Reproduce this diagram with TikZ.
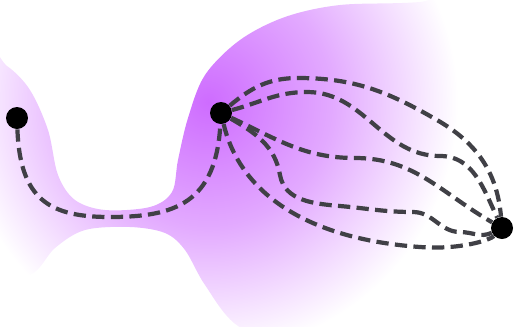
\documentclass[tikz,border=0pt]{standalone}
\usepackage{tikz}
\usetikzlibrary{positioning}
\definecolor{glowpurple}{RGB}{206, 108, 255}
\definecolor{trailgray}{RGB}{64, 64, 70}
\pgfdeclareradialshading{purpleglow}{\pgfpoint{0bp}{0bp}}{%
    color(0bp)=(glowpurple); color(12.5bp)=(glowpurple!58!white);
    color(25bp)=(white); color(50bp)=(white)}

\begin{document}
\begin{tikzpicture}[
    x=0.02cm, y=-0.02cm,
    dot/.style={circle, fill=black, inner sep=0pt, minimum size=0.44cm},
    trail/.style={trailgray, line width=2.4pt, dash pattern=on 7pt off 3.6pt}
]
    \useasboundingbox (0,0) rectangle (514,326);

    % Shaded region
    \begin{scope}
        \clip plot[smooth cycle, tension=0.55] coordinates {
            (-20,55) (7,66) (30,90) (48,130) (58,175) (75,200) (105,210)
            (150,207) (172,192) (178,160) (188,118) (205,75) (240,40)
            (285,17) (340,5) (420,2) (530,-10) (540,340) (300,350)
            (238,326) (205,285) (185,250) (165,233) (130,227) (85,230)
            (55,248) (30,275) (-20,280)};
        \shade[shading=purpleglow] (208,102) circle (250);
    \end{scope}

    % Dots
    \node[dot] (left) at (17,118) {};
    \node[dot] (mid) at (221,113) {};
    \node[dot] (right) at (502,228) {};

    % Paths
    \draw[trail] (left) .. controls (20,200) and (50,217) .. (110,217)
        .. controls (175,217) and (216,203) .. (mid);
    \draw[trail] (mid) to[out=40,in=180] (298,78) to[out=0,in=150] (437,120)
        to[out=-30,in=95] (right);
    \draw[trail] (mid) to[out=15,in=180] (307,92) to[out=0,in=180] (440,156)
        to[out=0,in=115] (right);
    \draw[trail] (mid) to[out=-25,in=180] (355,158) to[out=0,in=150] (right);
    \draw[trail] (mid) to[out=-30,in=100] (280,175) to[out=-80,in=175] (340,206)
        to[out=-5,in=180] (413,212) to[out=0,in=180] (460,232) to[out=0,in=205] (right);
    \draw[trail] (mid) .. controls (238,185) and (295,238) .. (420,247)
        .. controls (460,250) and (490,240) .. (right);
\end{tikzpicture}
\end{document}
